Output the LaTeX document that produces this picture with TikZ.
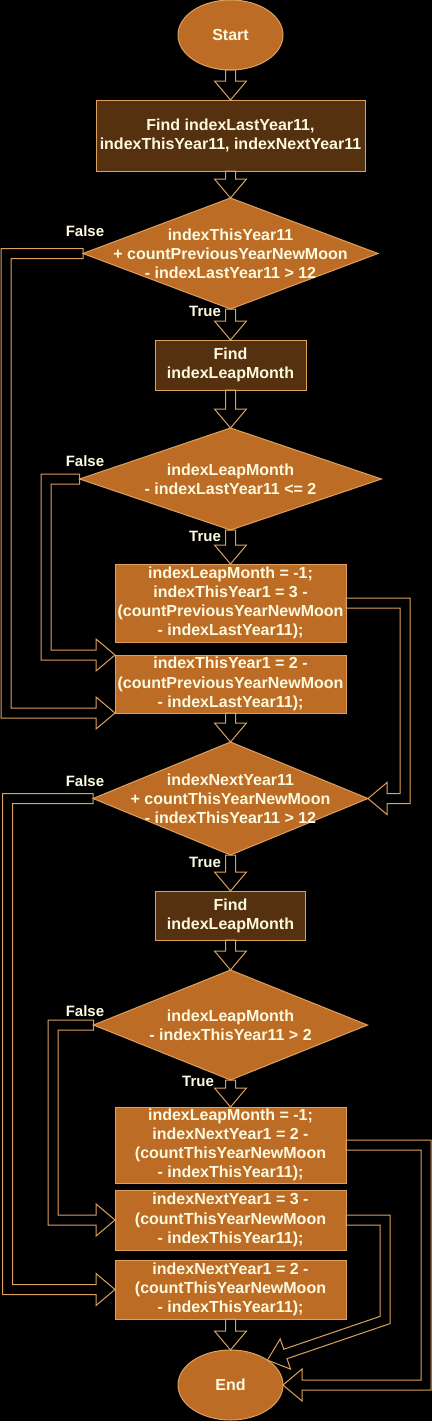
\documentclass[tikz,border=0pt]{standalone}
\usepackage{fontspec}
\setmainfont{Liberation Sans}
\usetikzlibrary{shapes.geometric,calc}
\definecolor{orfill}{HTML}{BC6C25}
\definecolor{dkfill}{HTML}{56310F}
\definecolor{bord}{HTML}{DDA15E}
\definecolor{txtc}{HTML}{FEFAE0}
\definecolor{arrowc}{HTML}{DDA15E}
\tikzset{
  basefont/.style={font=\fontsize{16}{19.2}\selectfont\bfseries, text=txtc},
  procbox/.style={rectangle, draw=bord, line width=1pt, fill=orfill, inner sep=0pt, outer sep=0pt, align=center, basefont},
  darkbox/.style={procbox, fill=dkfill},
  termnode/.style={ellipse, draw=bord, line width=1pt, fill=orfill, inner sep=0pt, outer sep=0pt, minimum width=105pt, minimum height=70pt, basefont},
  decnode/.style={diamond, draw=bord, line width=1pt, fill=orfill, inner sep=0pt, outer sep=0pt},
  dectext/.style={align=center, basefont, inner sep=0pt},
  lbl/.style={font=\fontsize{15}{18}\selectfont\bfseries, text=txtc, inner sep=0pt},
  flexline/.style={draw=arrowc, line width=1pt, line join=miter}
}
% straight downward flex arrow from #1.south to #2.north
\newcommand\vflex[2]{%
  \draw[flexline] let \p1=(#1.south), \p2=(#2.north) in
    (\x1-5pt,\y1) -- (\x2-5pt,\y2+19pt) -- (\x2-16pt,\y2+19pt) -- (\x2,\y2)
    -- (\x2+16pt,\y2+19pt) -- (\x2+5pt,\y2+19pt) -- (\x1+5pt,\y1) -- cycle;}
% left U-shaped flex arrow: from #1 left to x=#2, down, right to #3
\newcommand\leftflex[3]{%
  \draw[flexline] let \p1=(#1), \p2=(#3) in
    (\x1,\y1+5pt) -- (#2pt-5pt,\y1+5pt) -- (#2pt-5pt,\y2-5pt) -- (\x2-19pt,\y2-5pt)
    -- (\x2-19pt,\y2-16pt) -- (\x2,\y2) -- (\x2-19pt,\y2+16pt) -- (\x2-19pt,\y2+5pt)
    -- (#2pt+5pt,\y2+5pt) -- (#2pt+5pt,\y1-5pt) -- (\x1,\y1-5pt) -- cycle;}
% right U-shaped flex arrow: from #1 right to x=#2, down, left to #3
\newcommand\rightflex[3]{%
  \draw[flexline] let \p1=(#1), \p2=(#3) in
    (\x1,\y1+5pt) -- (#2pt+5pt,\y1+5pt) -- (#2pt+5pt,\y2-5pt) -- (\x2+19pt,\y2-5pt)
    -- (\x2+19pt,\y2-16pt) -- (\x2,\y2) -- (\x2+19pt,\y2+16pt) -- (\x2+19pt,\y2+5pt)
    -- (#2pt-5pt,\y2+5pt) -- (#2pt-5pt,\y1-5pt) -- (\x1,\y1-5pt) -- cycle;}
\begin{document}
\begin{tikzpicture}[x=1pt,y=-1pt]
\fill[black] (0,0) rectangle (432,1421);
\useasboundingbox (0,0) rectangle (432,1421);

% nodes
\node[termnode] (start) at (230.5,35) {Start};
\node[darkbox, minimum width=269pt, minimum height=71pt] (b1) at (230.5,135.5) {Find indexLastYear11,\\indexThisYear11, indexNextYear11};
\node[decnode, minimum width=295pt, minimum height=111pt] (d1) at (230.5,253.5) {};
\node[dectext] (d1t) at (d1) {indexThisYear11\\+ countPreviousYearNewMoon\\- indexLastYear11 > 12};
\node[darkbox, minimum width=151pt, minimum height=50pt] (b2) at (230.5,365) {Find\\indexLeapMonth};
\node[decnode, minimum width=302pt, minimum height=102pt] (d2) at (230.5,479) {};
\node[dectext] (d2t) at (d2) {indexLeapMonth\\- indexLastYear11 <= 2};
\node[procbox, minimum width=231pt, minimum height=78pt] (b3) at (230.5,603) {indexLeapMonth = -1;\\indexThisYear1 = 3 -\\(countPreviousYearNewMoon\\- indexLastYear11);};
\node[procbox, minimum width=231pt, minimum height=58pt] (b4) at (230.5,684) {indexThisYear1 = 2 -\\(countPreviousYearNewMoon\\- indexLastYear11);};
\node[decnode, minimum width=275pt, minimum height=113pt] (d3) at (230.5,798.5) {};
\node[dectext] (d3t) at (d3) {indexNextYear11\\+ countThisYearNewMoon\\- indexThisYear11 > 12};
\node[darkbox, minimum width=150pt, minimum height=49pt] (b5) at (230.5,915.5) {Find\\indexLeapMonth};
\node[decnode, minimum width=274pt, minimum height=110pt] (d4) at (230.5,1025) {};
\node[dectext] (d4t) at (d4) {indexLeapMonth\\- indexThisYear11 > 2};
\node[procbox, minimum width=231pt, minimum height=76pt] (b6) at (230.5,1145) {indexLeapMonth = -1;\\indexNextYear1 = 2 -\\(countThisYearNewMoon\\- indexThisYear11);};
\node[procbox, minimum width=231pt, minimum height=60pt] (b7) at (230.5,1220) {indexNextYear1 = 3 -\\(countThisYearNewMoon\\- indexThisYear11);};
\node[procbox, minimum width=231pt, minimum height=59pt] (b8) at (230.5,1289.5) {indexNextYear1 = 2 -\\(countThisYearNewMoon\\- indexThisYear11);};
\node[termnode] (end) at (230.5,1385) {End};

% labels
\node[lbl] (lf1) at (85,231) {False};
\node[lbl] (lt1) at (205,311) {True};
\node[lbl] (lf2) at (85,461) {False};
\node[lbl] (lt2) at (205,536) {True};
\node[lbl] (lf3) at (85,781) {False};
\node[lbl] (lt3) at (205,862) {True};
\node[lbl] (lf4) at (85,1011) {False};
\node[lbl] (lt4) at (198,1081) {True};

% straight connectors
\vflex{start}{b1}
\vflex{b1}{d1}
\vflex{d1}{b2}
\vflex{b2}{d2}
\vflex{d2}{b3}
\vflex{b4}{d3}
\vflex{d3}{b5}
\vflex{b5}{d4}
\vflex{d4}{b6}
\vflex{b8}{end}

% False branches (left)
\leftflex{d1.west}{6}{b4.south west}
\leftflex{d2.west}{46}{b4.north west}
\leftflex{d3.west}{7.5}{b8.west}
\leftflex{d4.west}{53}{b7.west}

% right-side connectors
\rightflex{b3.east}{405}{d3.east}
\rightflex{b6.east}{426}{end.east}
\draw[flexline] ($(b7.east)+(0,-5)$) -- (390,1215) -- (390,1323.6) -- (287.0,1358.7)
  -- (290.6,1369.1) -- (end.34) -- (280.2,1338.9) -- (283.8,1349.2)
  -- (380,1316.4) -- (380,1225) -- ($(b7.east)+(0,5)$) -- cycle;
\end{tikzpicture}
\end{document}
